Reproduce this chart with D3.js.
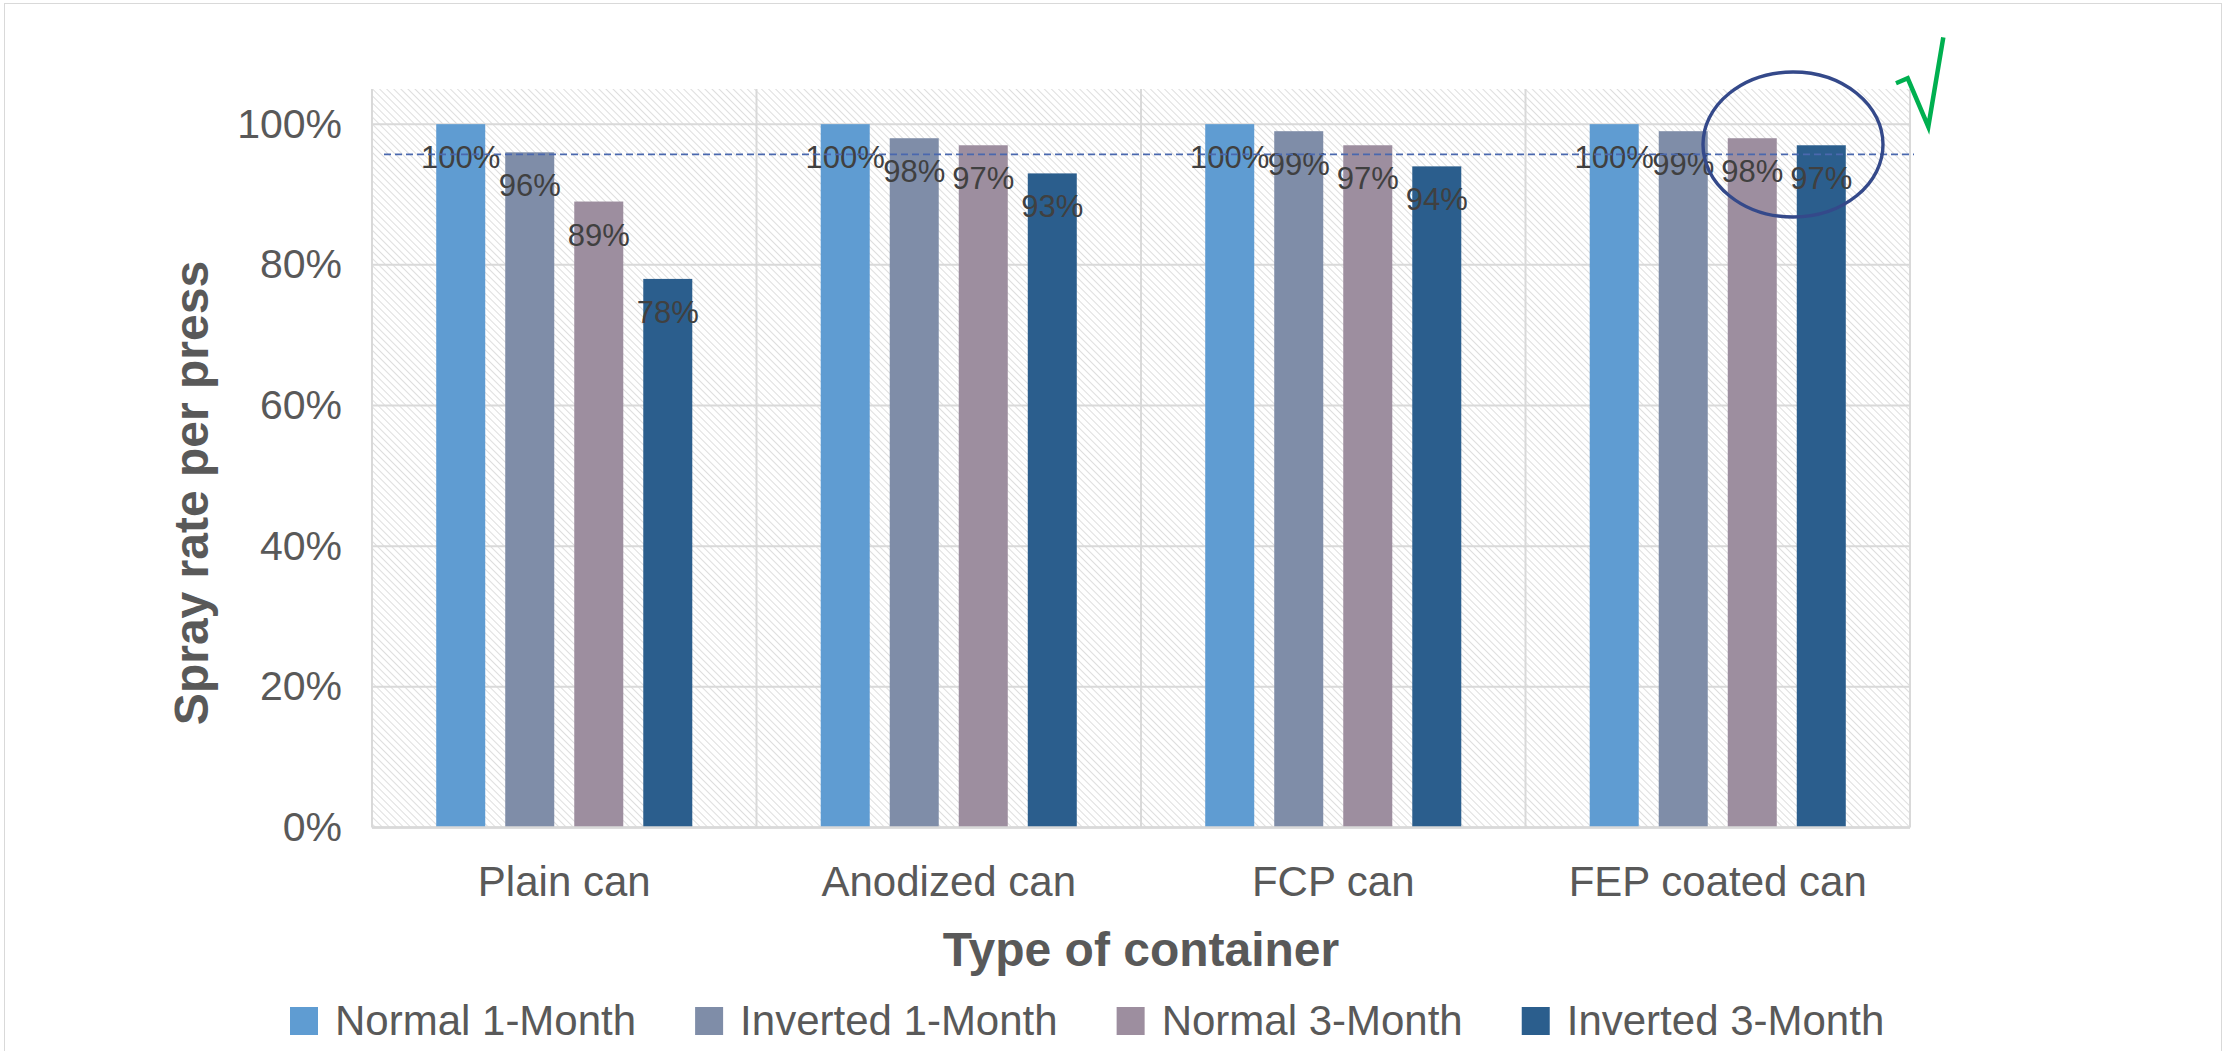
<!DOCTYPE html>
<html>
<head>
<meta charset="utf-8">
<script src="https://cdn.jsdelivr.net/npm/d3@7"></script>
<style>
  html, body { margin: 0; padding: 0; background: #ffffff; }
  #wrap { position: relative; width: 2231px; height: 1051px; overflow: hidden; }
  #frame { position: absolute; left: 4px; top: 3px; width: 2218px; height: 1100px;
           border: 1.5px solid #d9d9d9; box-sizing: border-box; pointer-events: none; }
  svg { position: absolute; left: 0; top: 0; display: block; font-family: "Liberation Sans", Arial, sans-serif; }
</style>
</head>
<body>
<div id="wrap">
<div id="frame"></div>
<svg id="chart" width="2231" height="1051"></svg>
</div>
<script>
// ---- data ----
const categories = ["Plain can", "Anodized can", "FCP can", "FEP coated can"];
const seriesNames = ["Normal 1-Month", "Inverted 1-Month", "Normal 3-Month", "Inverted 3-Month"];
const normal1Month = [1.00, 1.00, 1.00, 1.00];
const inverted1Month = [0.96, 0.98, 0.99, 0.99];
const normal3Month = [0.89, 0.97, 0.97, 0.98];
const inverted3Month = [0.78, 0.93, 0.94, 0.97];
const yTickValues = [0, 0.2, 0.4, 0.6, 0.8, 1.0];
const referenceLevel = 0.957;
const seriesColors = ["#5F9CD2", "#7F8DA8", "#9D8E9F", "#2B5E8D"];

const seriesValues = [normal1Month, inverted1Month, normal3Month, inverted3Month];

// ---- layout ----
const svg = d3.select("#chart");
const plot = { left: 372, right: 1910, top: 89, bottom: 827.5 };
const textColor = "#595959";
const gridColor = "#d9d9d9";
const fontFamily = "'Liberation Sans', Arial, sans-serif";

// hatch pattern
const defs = svg.append("defs");
const pat = defs.append("pattern")
  .attr("id", "hatch").attr("patternUnits", "userSpaceOnUse")
  .attr("width", 5).attr("height", 5)
  .attr("patternTransform", "rotate(-45)");
pat.append("rect").attr("width", 5).attr("height", 5).attr("fill", "#ffffff");
pat.append("line").attr("x1", 0).attr("y1", 0).attr("x2", 0).attr("y2", 5)
  .attr("stroke", "#d6d6d6").attr("stroke-width", 1.6);

// scales
const y = d3.scaleLinear().domain([0, 1.05]).range([plot.bottom, plot.top]);
const x0 = d3.scaleBand().domain(categories).range([plot.left, plot.right]).padding(0);
const innerWidth = x0.bandwidth() * 0.718;
const x1 = d3.scaleBand().domain(seriesNames)
  .range([-innerWidth / 2, innerWidth / 2])
  .paddingInner(0.29).paddingOuter(0.145);

// plot area background
svg.append("rect")
  .attr("x", plot.left).attr("y", plot.top)
  .attr("width", plot.right - plot.left).attr("height", plot.bottom - plot.top)
  .attr("fill", "url(#hatch)");

// horizontal gridlines
svg.append("g").selectAll("line").data(yTickValues).join("line")
  .attr("x1", plot.left).attr("x2", plot.right)
  .attr("y1", d => y(d)).attr("y2", d => y(d))
  .attr("stroke", gridColor).attr("stroke-width", 2);

// vertical category gridlines
const boundaries = categories.map(c => x0(c)).concat([x0(categories[categories.length - 1]) + x0.bandwidth()]);
svg.append("g").selectAll("line").data(boundaries).join("line")
  .attr("x1", d => d).attr("x2", d => d)
  .attr("y1", plot.top).attr("y2", plot.bottom)
  .attr("stroke", gridColor).attr("stroke-width", 2);

// bars
const groups = svg.append("g").selectAll("g").data(categories).join("g")
  .attr("transform", c => `translate(${x0(c) + x0.bandwidth() / 2},0)`);

groups.selectAll("rect")
  .data((c, ci) => seriesNames.map((s, si) => ({ s, si, v: seriesValues[si][ci] })))
  .join("rect")
  .attr("x", d => x1(d.s)).attr("width", x1.bandwidth())
  .attr("y", d => y(d.v)).attr("height", d => y(0) - y(d.v))
  .attr("fill", d => seriesColors[d.si]);

// bottom axis line
svg.append("line")
  .attr("x1", plot.left).attr("x2", plot.right)
  .attr("y1", plot.bottom).attr("y2", plot.bottom)
  .attr("stroke", gridColor).attr("stroke-width", 2.5);

// reference dashed line
svg.append("line")
  .attr("x1", 384).attr("x2", 1914)
  .attr("y1", y(referenceLevel)).attr("y2", y(referenceLevel))
  .attr("stroke", "#4A68AE").attr("stroke-width", 1.6)
  .attr("stroke-dasharray", "7,4");

// value labels
groups.selectAll("text.val")
  .data((c, ci) => seriesNames.map((s, si) => ({ s, si, v: seriesValues[si][ci] })))
  .join("text").attr("class", "val")
  .attr("x", d => x1(d.s) + x1.bandwidth() / 2)
  .attr("y", d => y(d.v) + 44)
  .attr("text-anchor", "middle")
  .attr("font-family", fontFamily)
  .attr("font-size", 31).attr("fill", "#404040")
  .text(d => d3.format(".0%")(d.v));

// y axis
const yAxis = svg.append("g")
  .attr("transform", `translate(${plot.left},0)`)
  .call(d3.axisLeft(y).tickValues(yTickValues).tickFormat(d3.format(".0%")).tickSize(0).tickPadding(30));
yAxis.select(".domain").remove();
yAxis.selectAll("text").attr("font-size", 41).attr("fill", textColor)
  .attr("font-family", fontFamily);

// x axis
const xAxis = svg.append("g")
  .attr("transform", `translate(0,${plot.bottom})`)
  .call(d3.axisBottom(x0).tickSize(0).tickPadding(0));
xAxis.select(".domain").remove();
xAxis.selectAll("text").attr("font-size", 42).attr("fill", textColor)
  .attr("font-family", fontFamily)
  .attr("dy", null).attr("y", 68.5);

// axis titles
svg.append("text")
  .attr("x", (plot.left + plot.right) / 2).attr("y", 966)
  .attr("text-anchor", "middle").attr("font-size", 48).attr("font-weight", "bold")
  .attr("font-family", fontFamily)
  .attr("fill", textColor).text("Type of container");

svg.append("text")
  .attr("transform", "translate(208,493) rotate(-90)")
  .attr("text-anchor", "middle").attr("font-size", 48).attr("font-weight", "bold")
  .attr("font-family", fontFamily)
  .attr("fill", textColor).text("Spray rate per press");

// legend
const legend = svg.append("g");
let lx = 290;
seriesNames.forEach((name, i) => {
  legend.append("rect").attr("x", lx).attr("y", 1007).attr("width", 28).attr("height", 28)
    .attr("fill", seriesColors[i]);
  const t = legend.append("text").attr("x", lx + 45).attr("y", 1035)
    .attr("font-family", fontFamily)
    .attr("font-size", 42).attr("fill", textColor).text(name);
  lx += 45 + t.node().getComputedTextLength() + 59;
});

// annotations: ellipse and check mark
svg.append("ellipse")
  .attr("cx", 1793).attr("cy", 144.5).attr("rx", 90).attr("ry", 72.5)
  .attr("fill", "none").attr("stroke", "#34498A").attr("stroke-width", 3.4);

svg.append("path")
  .attr("d", d3.line()([[1896, 83.3], [1907.7, 78.3], [1928.3, 126.7], [1943.3, 37.3]]))
  .attr("fill", "none").attr("stroke", "#00B050").attr("stroke-width", 4.5)
  .attr("stroke-linejoin", "miter");
</script>
</body>
</html>
